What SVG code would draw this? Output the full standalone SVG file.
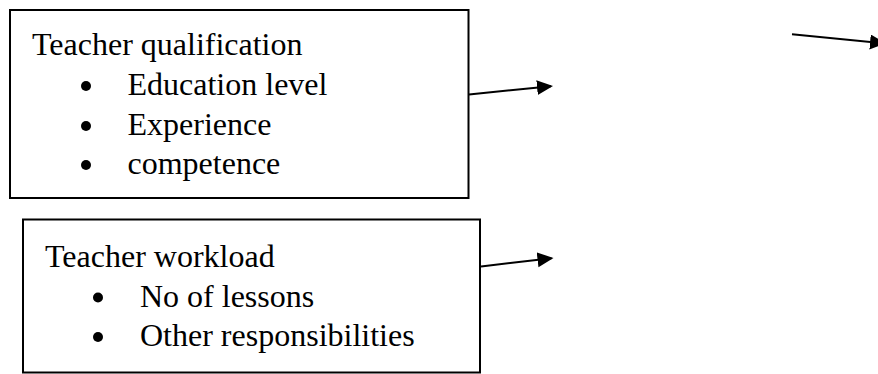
<svg xmlns="http://www.w3.org/2000/svg" width="878" height="374" viewBox="0 0 878 374">
  <style>
    .box { fill: #ffffff; stroke: #000000; stroke-width: 2; }
    .t { font-family: "Liberation Serif", "Times New Roman", serif; font-size: 32px; fill: #000000; }
    .dot { fill: #000000; }
    .conn { stroke: #000000; stroke-width: 2; fill: none; marker-end: url(#arrow); }
  </style>
  <defs>
    <marker id="arrow" markerUnits="userSpaceOnUse" markerWidth="17" markerHeight="16" refX="14" refY="7.5" orient="auto">
      <path d="M0,0 L16,7.5 L0,15 Z" fill="#000000"/>
    </marker>
  </defs>
  <rect width="878" height="374" fill="#ffffff"/>
  <g id="node-qualification">
    <rect class="box" x="10" y="10" width="458.5" height="188"/>
    <text class="t" x="32" y="55">Teacher qualification</text>
    <circle class="dot" cx="86" cy="86" r="5"/>
    <text class="t" x="127.5" y="95">Education level</text>
    <circle class="dot" cx="86" cy="126" r="5"/>
    <text class="t" x="127.5" y="134.5">Experience</text>
    <circle class="dot" cx="86" cy="165" r="5"/>
    <text class="t" x="127.5" y="173.5">competence</text>
  </g>
  <g id="node-workload">
    <rect class="box" x="23" y="219.5" width="457" height="153"/>
    <text class="t" x="45" y="267">Teacher workload</text>
    <circle class="dot" cx="98" cy="297.5" r="5"/>
    <text class="t" x="140" y="306.5">No of lessons</text>
    <circle class="dot" cx="98" cy="337" r="5"/>
    <text class="t" x="140" y="345.5">Other responsibilities</text>
  </g>
  <g id="connectors">
    <line class="conn" x1="469" y1="94.5" x2="551" y2="86.2"/>
    <line class="conn" x1="481" y1="266.5" x2="551.5" y2="258.2"/>
    <line class="conn" x1="792" y1="34.3" x2="884" y2="43.3"/>
  </g>
</svg>
